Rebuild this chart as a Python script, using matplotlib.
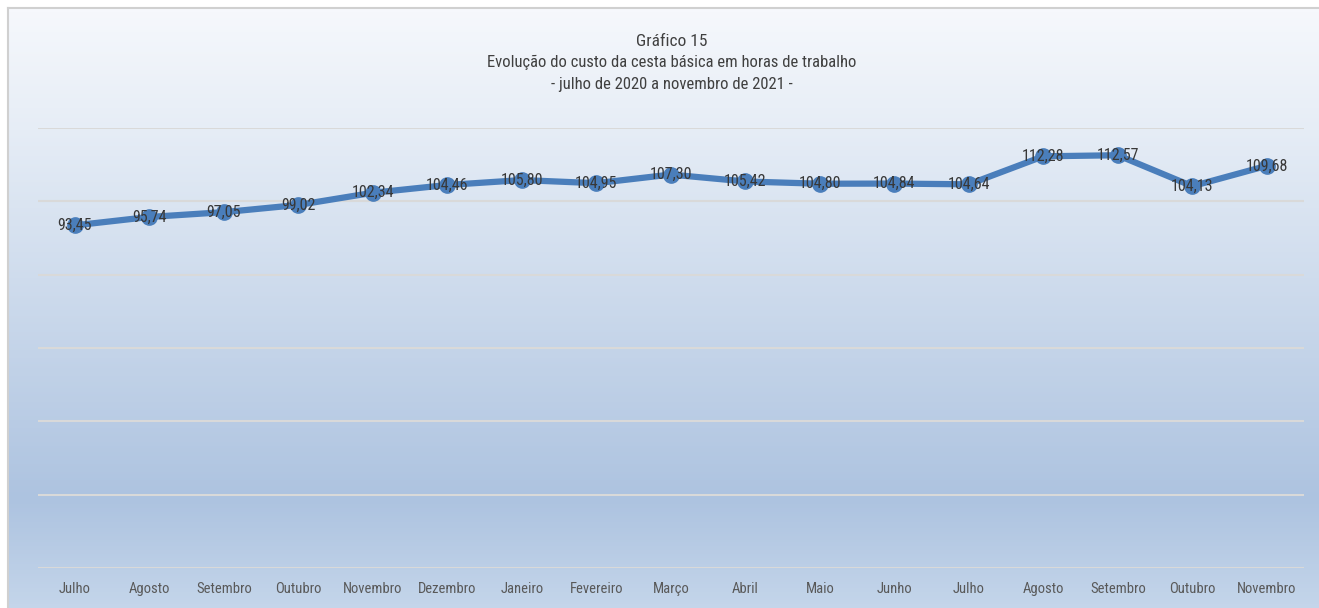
import matplotlib
matplotlib.use("Agg")
import matplotlib.pyplot as plt
import numpy as np
from matplotlib.colors import LinearSegmentedColormap

plt.rcParams['font.family'] = ['Liberation Sans Narrow', 'Roboto Condensed', 'DejaVu Sans']

months = ["Julho", "Agosto", "Setembro", "Outubro", "Novembro", "Dezembro", "Janeiro",
          "Fevereiro", "Março", "Abril", "Maio", "Junho", "Julho", "Agosto", "Setembro",
          "Outubro", "Novembro"]
hours = [93.45, 95.74, 97.05, 99.02, 102.34, 104.46, 105.80, 104.95, 107.30, 105.42,
         104.80, 104.84, 104.64, 112.28, 112.57, 104.13, 109.68]
title_lines = ["Gráfico 15",
               "Evolução do custo da cesta básica em horas de trabalho",
               "- julho de 2020 a novembro de 2021 -"]

W, H = 1319, 608
fig = plt.figure(figsize=(W / 100, H / 100), dpi=100)

# background gradient + frame (top and left edges only visible)
bg = fig.add_axes([0, 0, 1, 1], zorder=-10)
bg.set_xlim(0, W)
bg.set_ylim(H, 0)
bg.axis('off')
cmap = LinearSegmentedColormap.from_list(
    'bg', [(0, '#f6f8fc'), (0.2, '#e6edf6'), (0.82, '#adc3e0'), (1.0, '#c4d5ea')])
grad = np.linspace(0, 1, 300).reshape(-1, 1)
bg.imshow(grad, cmap=cmap, aspect='auto', extent=(8, W, H, 8))
bg.plot([8, W], [8, 8], color='#d0d0d0', lw=1.5)
bg.plot([8, 8], [8, H], color='#d0d0d0', lw=1.5)

ax = fig.add_axes([37.75 / W, 1 - 568 / H, (1304 - 37.75) / W, (568 - 128) / H])
ax.set_facecolor('none')
x = np.arange(len(months))
ax.plot(x, hours, color='#4a7ebb', lw=4.5, marker='o', ms=11, solid_joinstyle='round', zorder=3)
for xi, v in zip(x, hours):
    ax.text(xi, v, f"{v:.2f}".replace('.', ','), ha='center', va='center',
            fontsize=11.5, color='#383838', zorder=4)

ax.set_xlim(-0.5, len(months) - 0.5)
ax.set_ylim(0, 120)
ax.set_yticks(np.arange(0, 121, 20))
ax.yaxis.grid(True, color='#d9d9d9', lw=1.5)
ax.set_axisbelow(True)
ax.tick_params(axis='y', left=False, labelleft=False)
ax.set_xticks(x)
ax.set_xticklabels(months, fontsize=10.5, color='#595959')
ax.tick_params(axis='x', length=0, pad=10)
for s in ax.spines.values():
    s.set_visible(False)

for i, (line, yy) in enumerate(zip(title_lines, [42, 62, 84])):
    fig.text(672 / W, 1 - yy / H, line, ha='center', va='center',
             fontsize=12.5 if i == 0 else 12, color='#404040')

fig.savefig("out.png", dpi=100)
